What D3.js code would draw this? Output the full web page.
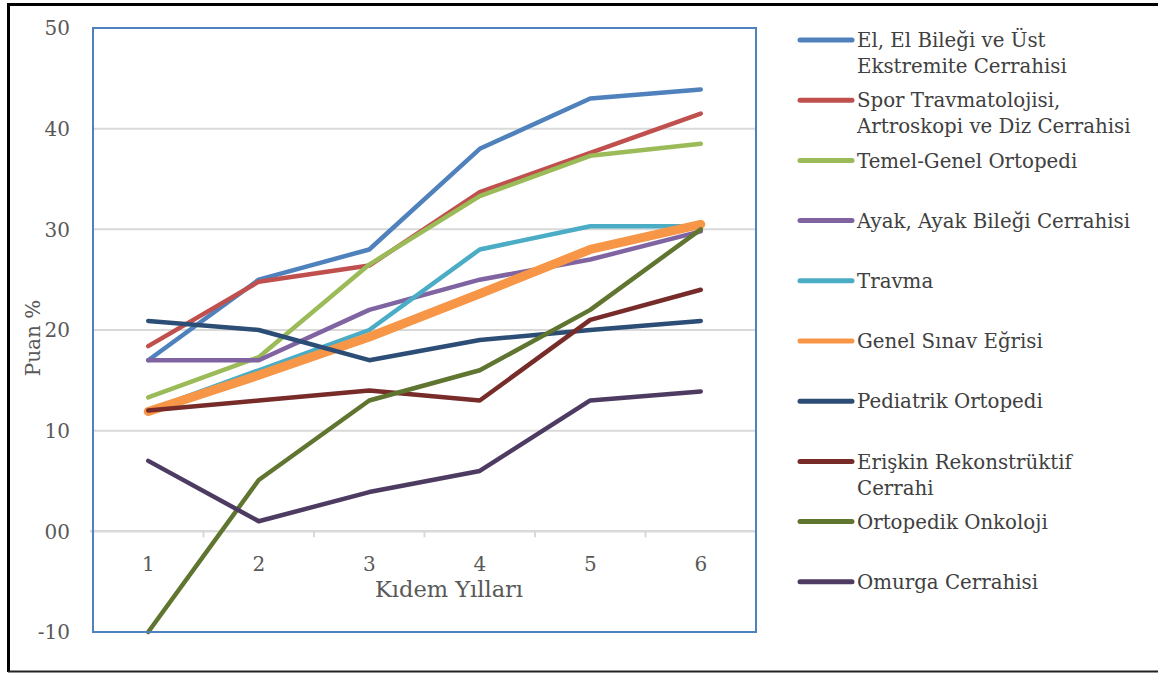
<!DOCTYPE html>
<html>
<head>
<meta charset="utf-8">
<script src="https://cdn.jsdelivr.net/npm/d3@7"></script>
<style>
  body { margin: 0; background: #fff; }
  text { font-family: "DejaVu Serif", serif; }
</style>
</head>
<body>
<div id="chart"></div>
<script>
const years = [1, 2, 3, 4, 5, 6];
const yTicks = [-10, 0, 10, 20, 30, 40, 50];

const seriesNames = [
  'El, El Bileği ve Üst\nEkstremite Cerrahisi',
  'Spor Travmatolojisi,\nArtroskopi ve Diz Cerrahisi',
  'Temel-Genel Ortopedi',
  'Ayak, Ayak Bileği Cerrahisi',
  'Travma',
  'Genel Sınav Eğrisi',
  'Pediatrik Ortopedi',
  'Erişkin Rekonstrüktif\nCerrahi',
  'Ortopedik Onkoloji',
  'Omurga Cerrahisi'
];

const elValues = [17, 25, 28, 38, 43, 43.9];
const sporValues = [18.4, 24.8, 26.4, 33.7, 37.6, 41.5];
const temelValues = [13.3, 17.3, 26.5, 33.3, 37.3, 38.5];
const ayakValues = [17, 17, 22, 25, 27, 29.8];
const travmaValues = [12, 16, 20, 28, 30.3, 30.3];
const genelValues = [11.9, 15.5, 19.3, 23.6, 28, 30.5];
const pediatrikValues = [20.9, 20, 17, 19, 20, 20.9];
const eriskinValues = [12, 13, 14, 13, 21, 24];
const onkolojiValues = [-10, 5.1, 13, 16, 22, 30];
const omurgaValues = [7, 1, 3.9, 6, 13, 13.9];

const allValues = [elValues, sporValues, temelValues, ayakValues, travmaValues,
  genelValues, pediatrikValues, eriskinValues, onkolojiValues, omurgaValues];

const colors = ['#4f81bd', '#c0504d', '#9bbb59', '#8064a2', '#4bacc6',
  '#f79646', '#2c4d75', '#772c2a', '#5f7530', '#4d3b62'];

const W = 1158, H = 673;
const plot = { left: 93, right: 756, top: 28, bottom: 632 };

const svg = d3.select('#chart').append('svg')
  .attr('width', W).attr('height', H);

// outer frame
svg.append('line').attr('x1', 8).attr('x2', W).attr('y1', 4.5).attr('y2', 4.5)
  .attr('stroke', '#000').attr('stroke-width', 3);
svg.append('line').attr('x1', 8.5).attr('x2', 8.5).attr('y1', 3).attr('y2', 672)
  .attr('stroke', '#000').attr('stroke-width', 3);
svg.append('line').attr('x1', 8).attr('x2', W).attr('y1', 671.5).attr('y2', 671.5)
  .attr('stroke', '#222').attr('stroke-width', 2);

const x = d3.scaleBand().domain(years).range([plot.left, plot.right]).padding(0);
const y = d3.scaleLinear().domain([-10, 50]).range([plot.bottom, plot.top]);
const cx = d => x(d) + x.bandwidth() / 2;

// gridlines
svg.append('g')
  .selectAll('line')
  .data(yTicks.filter(t => t > 0 && t < 50))
  .join('line')
  .attr('x1', plot.left).attr('x2', plot.right)
  .attr('y1', d => y(d)).attr('y2', d => y(d))
  .attr('stroke', '#d9d9d9').attr('stroke-width', 2);

// y tick labels
svg.append('g')
  .selectAll('text')
  .data(yTicks)
  .join('text')
  .attr('x', 70).attr('y', d => y(d))
  .attr('dy', '0.36em')
  .attr('text-anchor', 'end')
  .attr('fill', '#595959')
  .style('font-size', '20px')
  .text(d => d === 0 ? '00' : d);

// x axis at zero
const xAxis = svg.append('g').attr('transform', `translate(0,${y(0)})`);
xAxis.append('line').attr('x1', plot.left - 3).attr('x2', plot.right)
  .attr('stroke', '#d9d9d9').attr('stroke-width', 2.5);
xAxis.selectAll('line.tick')
  .data(years.slice(1))
  .join('line')
  .attr('class', 'tick')
  .attr('x1', d => x(d)).attr('x2', d => x(d))
  .attr('y1', 0).attr('y2', 6)
  .attr('stroke', '#d9d9d9').attr('stroke-width', 2);
svg.append('g')
  .selectAll('text')
  .data(years)
  .join('text')
  .attr('x', d => cx(d)).attr('y', 564)
  .attr('dy', '0.36em')
  .attr('text-anchor', 'middle')
  .attr('fill', '#595959')
  .style('font-size', '20px')
  .text(d => d);

// axis titles
svg.append('text')
  .attr('x', 449).attr('y', 589).attr('dy', '0.36em')
  .attr('text-anchor', 'middle').attr('fill', '#595959')
  .style('font-size', '22.5px')
  .text('Kıdem Yılları');
svg.append('text')
  .attr('transform', 'translate(33,338) rotate(-90)')
  .attr('dy', '0.36em')
  .attr('text-anchor', 'middle').attr('fill', '#595959')
  .style('font-size', '20px')
  .text('Puan %');

// lines
const line = d3.line().x((d, i) => cx(years[i])).y(d => y(d));
svg.append('g')
  .selectAll('path')
  .data(allValues)
  .join('path')
  .attr('d', d => line(d))
  .attr('fill', 'none')
  .attr('stroke', (d, i) => colors[i])
  .attr('stroke-width', (d, i) => i === 5 ? 9 : 4.5)
  .attr('stroke-linecap', 'round')
  .attr('stroke-linejoin', 'round');

// plot border
svg.append('rect')
  .attr('x', plot.left).attr('y', plot.top)
  .attr('width', plot.right - plot.left).attr('height', plot.bottom - plot.top)
  .attr('fill', 'none').attr('stroke', '#4f81bd').attr('stroke-width', 2);

// legend
const legend = svg.append('g')
  .selectAll('g')
  .data(seriesNames)
  .join('g')
  .attr('transform', (d, i) => `translate(0,${40 + i * 60.2})`);
legend.append('line')
  .attr('x1', 800).attr('x2', 852)
  .attr('stroke', (d, i) => colors[i])
  .attr('stroke-width', 5)
  .attr('stroke-linecap', 'round');
legend.append('text')
  .attr('x', 857)
  .attr('fill', '#404040')
  .style('font-size', '19.8px')
  .selectAll('tspan')
  .data(d => d.split('\n'))
  .join('tspan')
  .attr('x', 857)
  .attr('y', (d, i) => i * 26)
  .attr('dy', '0.36em')
  .text(d => d);
</script>
</body>
</html>
